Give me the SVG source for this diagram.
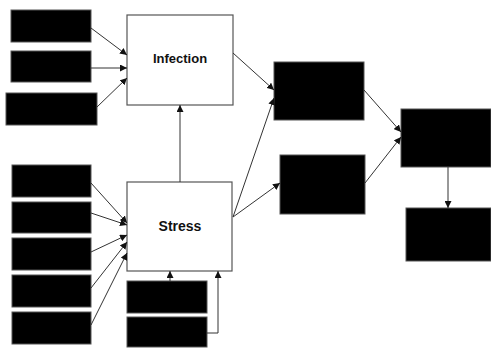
<svg xmlns="http://www.w3.org/2000/svg" width="491" height="348" viewBox="0 0 491 348">
<style>
.blk{fill:#000;stroke:#555;stroke-width:1}
.wht{fill:#fff;stroke:#555;stroke-width:1.2}
.lbl{font-family:"Liberation Sans",Arial,sans-serif;font-weight:bold;fill:#111;text-anchor:middle}
.c{fill:none;stroke:#333;stroke-width:1}
</style>
<defs>
<marker id="ah" viewBox="0 0 10 10" refX="10" refY="5" markerWidth="7" markerHeight="7" orient="auto" markerUnits="userSpaceOnUse">
<path d="M0,0 L10,5 L0,10 z" fill="#111"/>
</marker>
</defs>
<rect width="491" height="348" fill="#fff"/>
<g id="infection"><rect class="wht" x="127" y="15" width="106" height="90"/><text class="lbl" x="180" y="63" font-size="13">Infection</text></g>
<g id="stress"><rect class="wht" x="127" y="182" width="105" height="89"/><text class="lbl" x="180" y="231" font-size="14">Stress</text></g>
<g id="i1"><rect class="blk" x="11" y="10" width="80" height="32"/></g>
<g id="i2"><rect class="blk" x="11" y="51" width="80" height="31"/></g>
<g id="i3"><rect class="blk" x="6" y="93" width="91" height="32"/></g>
<g id="s1"><rect class="blk" x="12" y="165" width="79" height="32"/></g>
<g id="s2"><rect class="blk" x="12" y="202" width="79" height="31"/></g>
<g id="s3"><rect class="blk" x="12" y="238" width="79" height="32"/></g>
<g id="s4"><rect class="blk" x="12" y="275" width="79" height="32"/></g>
<g id="s5"><rect class="blk" x="12" y="312" width="79" height="32"/></g>
<g id="b1"><rect class="blk" x="127" y="281" width="80" height="32"/></g>
<g id="b2"><rect class="blk" x="127" y="317" width="80" height="30"/></g>
<g id="m1"><rect class="blk" x="274" y="62" width="90" height="58"/></g>
<g id="m2"><rect class="blk" x="280" y="155" width="85" height="59"/></g>
<g id="r1"><rect class="blk" x="401" y="109" width="90" height="58"/></g>
<g id="r2"><rect class="blk" x="406" y="208" width="85" height="53"/></g>
<g id="connectors">
<path class="c" d="M91,28 L127,55" marker-end="url(#ah)"/>
<path class="c" d="M91,68 L127,68" marker-end="url(#ah)"/>
<path class="c" d="M97,107 L127,78" marker-end="url(#ah)"/>
<path class="c" d="M180,182 L180,105" marker-end="url(#ah)"/>
<path class="c" d="M91,183 L127,223" marker-end="url(#ah)"/>
<path class="c" d="M91,213 L127,225" marker-end="url(#ah)"/>
<path class="c" d="M91,252 L127,235" marker-end="url(#ah)"/>
<path class="c" d="M91,288 L127,242" marker-end="url(#ah)"/>
<path class="c" d="M91,325 L127,253" marker-end="url(#ah)"/>
<path class="c" d="M170,281 L170,271" marker-end="url(#ah)"/>
<path class="c" d="M207,333 L218,333 L218,271" marker-end="url(#ah)"/>
<path class="c" d="M233,53 L274,90" marker-end="url(#ah)"/>
<path class="c" d="M233,217 L274,98" marker-end="url(#ah)"/>
<path class="c" d="M233,217 L280,183" marker-end="url(#ah)"/>
<path class="c" d="M364,90 L401,132" marker-end="url(#ah)"/>
<path class="c" d="M365,183 L401,137" marker-end="url(#ah)"/>
<path class="c" d="M448,167 L448,208" marker-end="url(#ah)"/>
</g>
</svg>
